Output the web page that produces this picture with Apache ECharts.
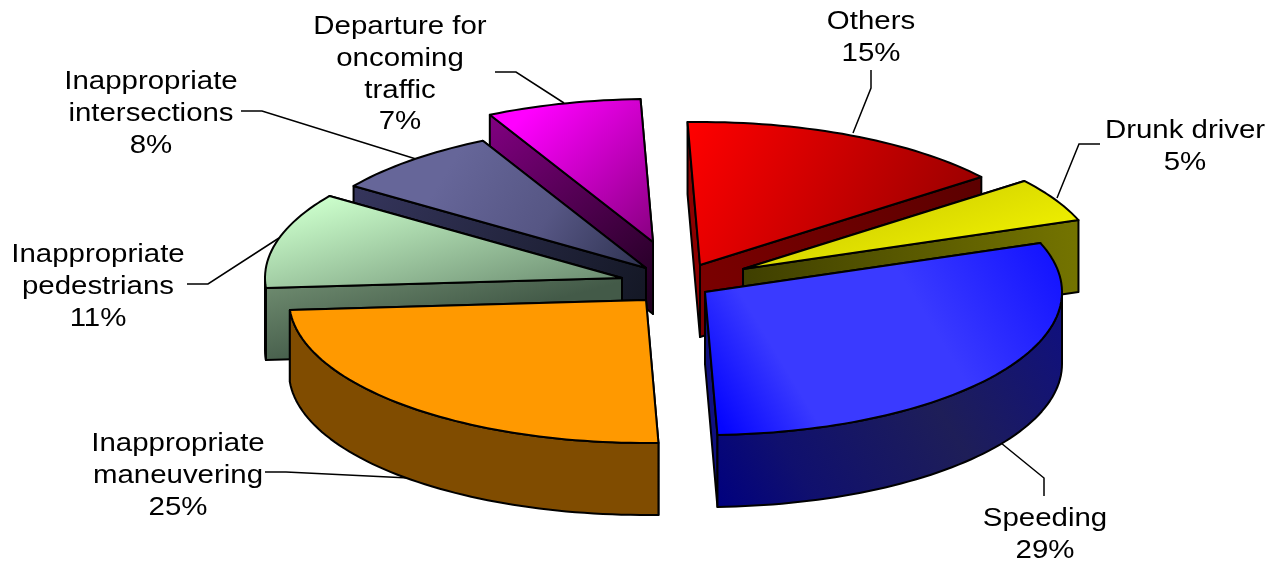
<!DOCTYPE html>
<html><head><meta charset="utf-8">
<style>html,body{margin:0;padding:0;background:#fff}#c{width:1271px;height:561px}</style>
<script src="https://cdn.jsdelivr.net/npm/echarts@6/dist/echarts.min.js"></script>
</head><body><div id="c"></div>
<script>
// ---- data (clockwise from the top of the pie) ----
const names = ['Others','Drunk driver','Speeding','Inappropriate\nmaneuvering','Inappropriate\npedestrians','Inappropriate\nintersections','Departure for\noncoming\ntraffic'];
const shares = [15,5,29,25,11,8,7];

// ---- layout: projection of the tilted pie, per-slice explosion, labels ----
const RX=357, RY=143, DEPTH=72, START_DEG=-2;
const perspectiveNudgeDeg=[0,0,3.6,1.6,1,0,0]; // apparent shift of each slice's closing edge
const explodedCentre=[[700,265],[743,269],[705,292],[646,300],[622,278],[646,268],[653,242]];
const paintOrder=[6,5,4,3,0,1,2];
const labelPos=[[871,37.5],[1185,146.5],[1045,534.5],[178,475.5],[98,286.5],[151,113.5],[400,74.5]];
const leaders=[
 [[871,70],[871,88],[853,133]],
 [[1100,144],[1079,144],[1057,198]],
 [[1044,496],[1044,478],[1001,443]],
 [[265,472],[286,472],[409,478]],
 [[187,284],[208,284],[279,238]],
 [[241,111],[262,111],[416,159]],
 [[495,72],[516,72],[564,103]]
];
// gradients are given in pixels relative to the slice's apex
const g=(x,y,x2,y2,...c)=>({g:[x,y,x2,y2],c});
const looks=[
 {top:g(-10,-143,244,-15,'#ff0000','#9c0000'),arc:'#800000',a:'#8c0000',b:g(0,0,280,-88,'#7a0000','#5c0000')},
 {top:g(157,-79,187,11,'#d2d200','#f0f000'),arc:'#707000',a:'#707000',b:g(0,0,336,0,'#3f3f00','#747400')},
 {top:g(25,148,355,-52,'#0505ff','#3a3aff','#3a3aff','#1010ff'),arc:g(12,216,355,8,'#00007f','#10106e','#1e1e58','#0f0f80'),a:'#263070',b:'#101080'},
 {top:'#ff9900',arc:'#804c00',a:'#804c00',b:'#804c00'},
 {top:g(-292,-83,-249,67,'#ccffcc','#6f9074'),arc:'#5c7560',a:g(-356,5,-333,92,'#6f8c70','#435a48'),b:'#5c7560'},
 {top:g(-186,-118,0,0,'#666699','#565684','#2e3250'),arc:'#333355',a:g(-290,-80,0,70,'#35355c','#121622'),b:'#222244'},
 {top:g(-123,-132,0,0,'#ff00ff','#880080'),arc:'#800080',a:g(-158,-127,0,60,'#800080','#200020'),b:'#2a0a30'}
];
const FONT='"Liberation Sans", Arial, sans-serif', FS=26.5, LH=31.7, TEXT_WIDEN=1.11;

const total=shares.reduce((a,b)=>a+b,0);
const ranges=[]; let acc=START_DEG;
shares.forEach((v,i)=>{const s=i?ranges[i-1][1]:acc;acc+=v/total*360;ranges.push([s,acc+perspectiveNudgeDeg[i]]);});
const rad=d=>d*Math.PI/180;
const rim=(c,d,drop=0)=>[c[0]+RX*Math.sin(rad(d)),c[1]-RY*Math.cos(rad(d))+drop];
const sweep=(a,b)=>{const o=[];const n=Math.max(2,Math.ceil((b-a)/1.5));for(let i=0;i<=n;i++)o.push(a+(b-a)*i/n);return o;};
function paint(f,c){
 if(typeof f==='string')return f;
 const [x,y,x2,y2]=f.g;
 return {type:'linear',global:true,x:c[0]+x,y:c[1]+y,x2:c[0]+x2,y2:c[1]+y2,
  colorStops:f.c.map((col,i)=>({offset:f.c.length===4?[0,.22,.6,1][i]:i/(f.c.length-1),color:col}))};
}
function renderSlice(params){
 const i=paintOrder[params.dataIndex], [a,b]=ranges[i], c=explodedCentre[i], L=looks[i];
 const st={stroke:'#000',lineWidth:2,lineJoin:'round'};
 const poly=(pts,fill)=>({type:'polygon',shape:{points:pts},style:Object.assign({fill:paint(fill,c)},st)});
 const cd=[c[0],c[1]+DEPTH];
 const fa_=poly([c,rim(c,a),rim(c,a,DEPTH),cd],L.a);
 const fb_=poly([c,rim(c,b),rim(c,b,DEPTH),cd],L.b);
 // nearer radial wall is painted last
 const kids=rim(c,a)[1]>rim(c,b)[1]?[fb_,fa_]:[fa_,fb_];
 const fa=Math.max(a,90), fb=Math.min(b,270);
 if(fb>fa){const s=sweep(fa,fb);
  kids.push(poly(s.map(d=>rim(c,d)).concat(s.slice().reverse().map(d=>rim(c,d,DEPTH))),L.arc));}
 kids.push(poly([c].concat(sweep(a,b).map(d=>rim(c,d))),L.top));
 return {type:'group',children:kids};
}
function renderLabel(params){
 const i=params.dataIndex;
 return {type:'group',children:[
  {type:'polyline',shape:{points:leaders[i]},style:{stroke:'#000',lineWidth:1.5,fill:null}},
  {type:'text',x:labelPos[i][0],y:labelPos[i][1],scaleX:TEXT_WIDEN,scaleY:1,style:{text:names[i]+'\n'+shares[i]+'%',
    fill:'#000',font:FS+'px '+FONT,fontSize:FS,fontFamily:FONT,lineHeight:LH,align:'center',verticalAlign:'middle'}}
 ]};
}
const chart=echarts.init(document.getElementById('c'),null,{renderer:'canvas'});
chart.setOption({
 animation:false,backgroundColor:'#fff',
 series:[
  {type:'custom',coordinateSystem:'none',silent:true,clip:false,z:2,renderItem:renderSlice,data:paintOrder.map(i=>[shares[i]])},
  {type:'custom',coordinateSystem:'none',silent:true,clip:false,z:1,renderItem:renderLabel,data:shares.map(v=>[v])}
 ]
});
</script></body></html>
